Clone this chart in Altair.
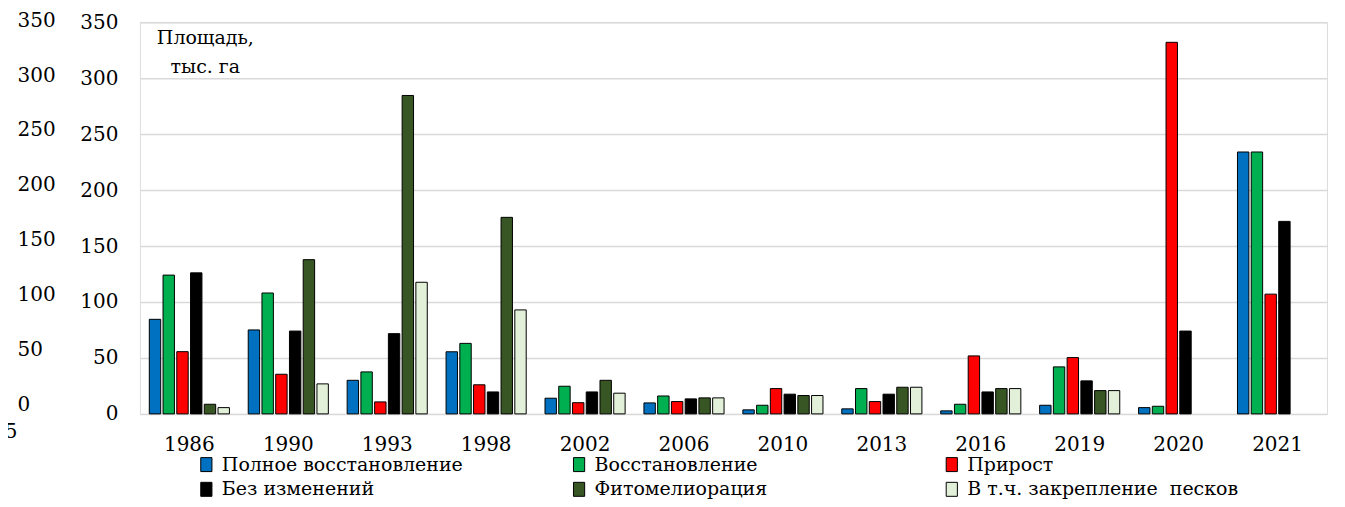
import altair as alt
import pandas as pd

FONT = "DejaVu Serif"

years = ["1986", "1990", "1993", "1998", "2002", "2006", "2010", "2013", "2016", "2019", "2020", "2021"]
series = ["Полное восстановление", "Восстановление", "Прирост",
          "Без изменений", "Фитомелиорация", "В т.ч. закрепление\u00a0 песков"]
colors = ["#0070C0", "#00B050", "#FF0000", "#000000", "#375623", "#E2F0D9"]

full_restore = [84.5, 75, 30, 55.5, 14, 9.8, 3.6, 4.5, 2.7, 7.7, 5.6, 234]
restore = [124, 108, 37.5, 63, 24.7, 16, 7.7, 22.6, 8.6, 42, 6.8, 234]
growth = [55.6, 35.4, 10.7, 26, 10, 11, 22.6, 11, 51.8, 50.3, 332, 107]
no_change = [126, 74, 71.7, 19.6, 19.6, 13.4, 17.6, 17.6, 19.6, 29.5, 74, 172]
phyto = [8.6, 137.8, 284.5, 175.6, 30, 14.3, 16.4, 23.8, 22.6, 20.8, None, None]
sand = [5.6, 26.8, 117.6, 92.9, 18.5, 14.3, 16.4, 23.8, 22.6, 20.8, None, None]

y_ticks = [0, 50, 100, 150, 200, 250, 300, 350]
ghost_ticks = [-25, 0, 50, 100, 150, 200, 250, 300, 350]

rows = []
for name, vals in zip(series, [full_restore, restore, growth, no_change, phyto, sand]):
    for yr, v in zip(years, vals):
        if v is not None:
            rows.append({"year": yr, "series": name, "value": v})
df = pd.DataFrame(rows)

bars = alt.Chart(df).mark_bar(stroke="black", strokeWidth=1).encode(
    x=alt.X("year:N", sort=years,
            scale=alt.Scale(domain=years, paddingInner=0.19, paddingOuter=0.095),
            axis=alt.Axis(title=None, labelAngle=0, labelFont=FONT, labelFontSize=20,
                          labelColor="black", ticks=False, domain=False, labelPadding=21)),
    xOffset=alt.XOffset("series:N", sort=series,
                        scale=alt.Scale(domain=series, paddingInner=0.17, paddingOuter=0)),
    y=alt.Y("value:Q", scale=alt.Scale(domain=[0, 350], nice=False),
            axis=alt.Axis(values=y_ticks, orient="left", grid=True, gridColor="#D9D9D9",
                          gridWidth=1.5, domain=False, ticks=False, labelPadding=22,
                          labelFont=FONT, labelFontSize=20, labelColor="black",
                          title=["Площадь,", "тыс. га"], titleAngle=0, titleAlign="center",
                          titleBaseline="top", titleX=65, titleY=6, titleFont=FONT,
                          titleFontSize=19, titleFontWeight="normal", titleColor="black",
                          titleLineHeight=29)),
    color=alt.Color("series:N", sort=series,
                    scale=alt.Scale(domain=series, range=colors),
                    legend=alt.Legend(title=None, orient="none", legendX=57, legendY=433,
                                      direction="horizontal", columns=3, gridAlign="all",
                                      columnPadding=76, rowPadding=5,
                                      symbolType="M-0.8,-1H0.8V1H-0.8Z", symbolSize=196,
                                      symbolStrokeColor="black", symbolStrokeWidth=1,
                                      labelFont=FONT, labelFontSize=19, labelColor="black",
                                      labelOffset=6, padding=0, labelLimit=400)),
)

ghost = alt.Chart(pd.DataFrame({"v": ghost_ticks})).mark_point(opacity=0).encode(
    y=alt.Y("v:Q", scale=alt.Scale(domain=[-25, 350], range=[410, -2], nice=False, zero=False),
            axis=alt.Axis(orient="left", offset=123, values=ghost_ticks, grid=False,
                          domain=False, ticks=False, labelPadding=0,
                          labelAlign={"condition": {"test": "datum.value < 0", "value": "right"},
                                      "value": "left"},
                          labelFont=FONT, labelFontSize=20, labelColor="black", title=None)),
)

chart = alt.layer(bars, ghost).resolve_scale(y="independent").properties(
    width=1188, height=392,
    autosize=alt.AutoSizeParams(type="none"),
    padding={"left": 132, "top": 14, "right": 10, "bottom": 93},
).configure_view(stroke=None).configure(background="white")

chart.save("out.html", embed_options={"renderer": "svg", "actions": False})
